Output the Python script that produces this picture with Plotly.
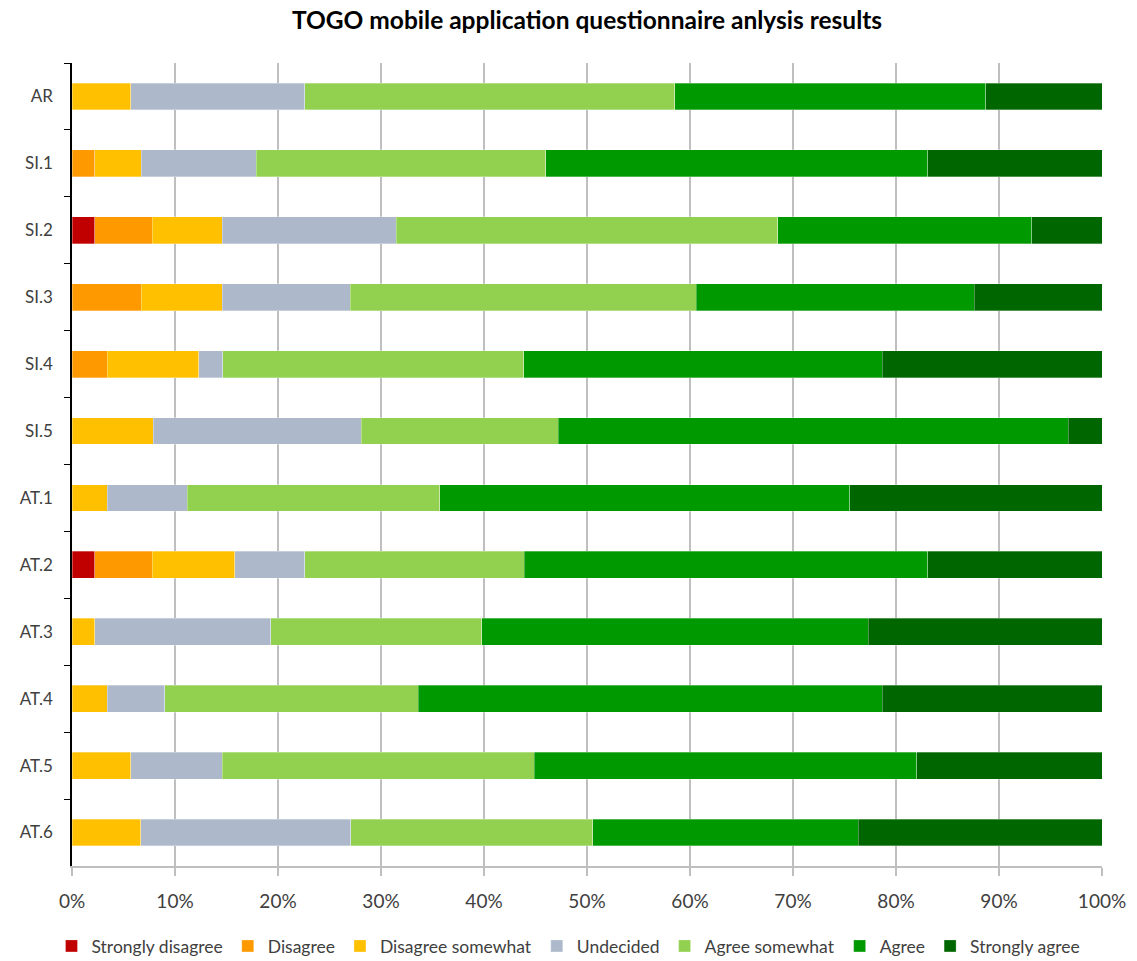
import plotly.graph_objects as go

# Questionnaire items (top to bottom)
items = ["AR", "SI.1", "SI.2", "SI.3", "SI.4", "SI.5",
         "AT.1", "AT.2", "AT.3", "AT.4", "AT.5", "AT.6"]

# Share of answers per response level, in percent
strongly_disagree = [0.0, 0.0, 2.2, 0.0, 0.0, 0.0, 0.0, 2.2, 0.0, 0.0, 0.0, 0.0]
disagree          = [0.0, 2.2, 5.6, 6.7, 3.4, 0.0, 0.0, 5.6, 0.0, 0.0, 0.0, 0.0]
disagree_somewhat = [5.7, 4.5, 6.8, 7.9, 8.9, 7.9, 3.4, 8.0, 2.2, 3.4, 5.7, 6.7]
undecided         = [16.9, 11.2, 16.9, 12.4, 2.3, 20.2, 7.8, 6.8, 17.1, 5.6, 8.9, 20.4]
agree_somewhat    = [35.9, 28.1, 37.0, 33.6, 29.2, 19.1, 24.5, 21.3, 20.5, 24.6, 30.3, 23.5]
agree             = [30.2, 37.1, 24.7, 27.0, 34.8, 49.5, 39.8, 39.2, 37.5, 45.0, 37.1, 25.8]
strongly_agree    = [11.3, 16.9, 6.8, 12.4, 21.3, 3.3, 24.5, 16.9, 22.7, 21.3, 18.0, 23.7]

levels = ["Strongly disagree", "Disagree", "Disagree somewhat", "Undecided",
          "Agree somewhat", "Agree", "Strongly agree"]
series = [strongly_disagree, disagree, disagree_somewhat, undecided,
          agree_somewhat, agree, strongly_agree]
colors = ["#C00000", "#FF9900", "#FFC000", "#ADB9CA",
          "#92D050", "#009900", "#006600"]

FONT = "Lato, 'Open Sans', sans-serif"

fig = go.Figure()
for name, vals, col in zip(levels, series, colors):
    fig.add_trace(go.Bar(
        y=items, x=vals, name=name, orientation="h",
        marker=dict(color=col, line=dict(color="rgba(255,255,255,0.6)", width=0.5)),
    ))

fig.update_layout(
    barmode="stack",
    barnorm="percent",
    bargap=0.6,
    width=1137, height=961,
    margin=dict(l=72, r=35, t=63, b=95, autoexpand=False),
    paper_bgcolor="white",
    plot_bgcolor="white",
    font=dict(family=FONT, size=16, color="#404040"),
    title=dict(
        text="<b>TOGO mobile application questionnaire anlysis results</b>",
        x=0.5, xref="paper", xanchor="center",
        y=1 - 20 / 961, yanchor="middle",
        font=dict(family=FONT, size=24.5, color="#000000"),
    ),
    legend=dict(
        orientation="h", traceorder="normal",
        x=0.5, xref="container", xanchor="center",
        y=15 / 961, yref="container", yanchor="middle",
        font=dict(family=FONT, size=17.5, color="#404040"),
        itemwidth=30, tracegroupgap=0,
    ),
    showlegend=True,
)

fig.update_xaxes(
    range=[0, 100],
    tickvals=[0, 10, 20, 30, 40, 50, 60, 70, 80, 90, 100],
    ticktext=[f"{v}%" for v in range(0, 101, 10)],
    showgrid=True, gridcolor="#BFBFBF", gridwidth=1.5,
    showline=True, linecolor="#BFBFBF", linewidth=1.5,
    zeroline=False,
    ticks="outside", ticklen=8, tickcolor="#BFBFBF", tickwidth=1.5,
    ticklabelstandoff=9,
    tickfont=dict(size=19, color="#404040"),
)

fig.update_yaxes(
    categoryorder="array", categoryarray=items,
    autorange="reversed",
    showline=True, linecolor="#000000", linewidth=1.5,
    ticks="outside", tickson="boundaries", ticklen=6, tickcolor="#000000",
    showgrid=False,
    ticklabelstandoff=14,
    tickfont=dict(size=17, color="#404040"),
)

fig.write_html("out.html")
